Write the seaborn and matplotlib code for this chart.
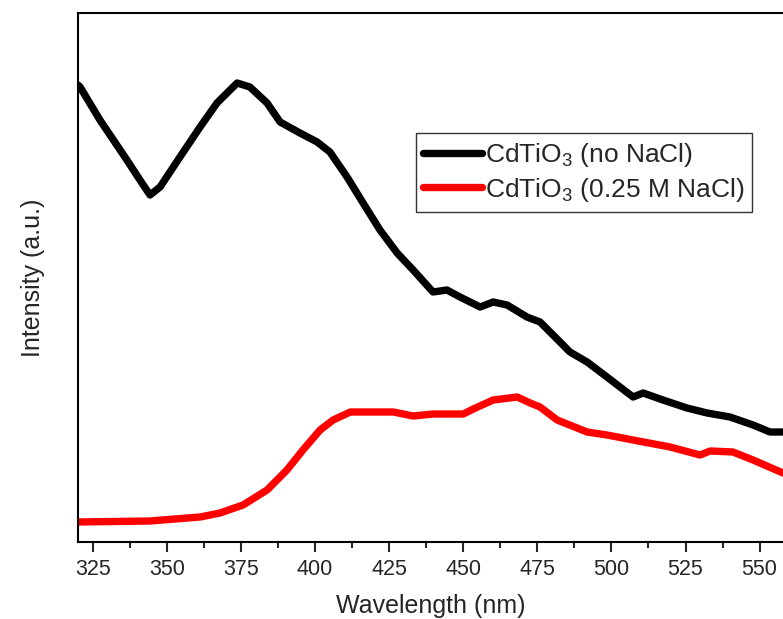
import numpy as np
import pandas as pd
import matplotlib
matplotlib.use("Agg")
import matplotlib.pyplot as plt
import seaborn as sns
from matplotlib.ticker import MultipleLocator

# ---- data ----
wl_black = [320.0, 320.7, 327.4, 336.5, 340.9, 344.3, 347.7, 354.4, 361.2, 366.9,
            373.7, 378.0, 383.8, 388.2, 394.9, 400.7, 405.0, 410.8, 416.2, 421.9,
            427.7, 433.1, 439.8, 444.5, 448.9, 455.7, 460.1, 464.8, 471.5, 475.9,
            480.3, 486.0, 491.8, 498.5, 507.3, 510.7, 517.4, 525.5, 532.3, 540.0,
            547.8, 553.5, 557.9]
int_black = [457, 455, 422, 382, 362, 347, 355, 385, 415, 439,
             459, 455, 439, 420, 409, 400, 390, 365, 339, 312,
             289, 272, 250, 252, 245, 235, 240, 237, 225, 220,
             207, 190, 180, 165, 145, 149, 142, 134, 129, 125,
             117, 110, 110]

wl_red = [320.0, 344.3, 361.2, 367.9, 375.7, 383.8, 390.5, 395.9, 401.7, 406.1,
          411.9, 419.6, 426.4, 433.1, 439.8, 450.0, 453.4, 460.1, 468.2, 472.6,
          475.9, 481.7, 491.8, 498.5, 507.3, 519.8, 529.9, 533.3, 541.0, 547.8,
          557.9]
int_red = [20, 21, 25, 29, 37, 52, 72, 92, 112, 122,
           130, 130, 130, 126, 128, 128, 133, 142, 145, 139,
           135, 122, 110, 107, 102, 95, 87, 91, 90, 82,
           69]

labels = [r"CdTiO$_3$ (no NaCl)", r"CdTiO$_3$ (0.25 M NaCl)"]
colors = ["#000000", "#ff0000"]
x_ticks = [325, 350, 375, 400, 425, 450, 475, 500, 525, 550]

df = pd.concat([
    pd.DataFrame({"Wavelength": wl_black, "Intensity": int_black, "Sample": labels[0]}),
    pd.DataFrame({"Wavelength": wl_red, "Intensity": int_red, "Sample": labels[1]}),
])

sns.set_style("white")
plt.rcParams["font.family"] = ["Liberation Sans", "DejaVu Sans"]
plt.rcParams["mathtext.fontset"] = "custom"
plt.rcParams["mathtext.rm"] = "Liberation Sans"
plt.rcParams["mathtext.it"] = "Liberation Sans:italic"

fig = plt.figure(figsize=(7.83, 6.19), dpi=100)
ax = fig.add_axes([78 / 783, 1 - 542 / 619, 1 - 78 / 783, (542 - 13) / 619])

sns.lineplot(data=df, x="Wavelength", y="Intensity", hue="Sample",
             palette=dict(zip(labels, colors)), linewidth=5.3, ax=ax,
             sort=False, estimator=None)

ax.set_xlim(320, 557.9)
ax.set_ylim(0, 529)
ax.set_xticks(x_ticks)
ax.xaxis.set_minor_locator(MultipleLocator(12.5))
ax.set_yticks([])
ax.tick_params(axis="x", which="major", direction="out", length=7, width=1.5,
               labelsize=15.5, pad=5, bottom=True)
ax.tick_params(axis="x", which="minor", direction="out", length=4, width=1.5, bottom=True)

for side in ["left", "bottom", "top"]:
    ax.spines[side].set_visible(True)
    ax.spines[side].set_color("black")
    ax.spines[side].set_linewidth(1.5)
ax.spines["right"].set_visible(False)

ax.set_xlabel("Wavelength (nm)", fontsize=18, labelpad=10)
ax.set_ylabel("Intensity (a.u.)", fontsize=18, labelpad=24)

leg = ax.legend(loc="upper right", bbox_to_anchor=(0.956, 0.773), borderaxespad=0,
                fontsize=19, frameon=True, fancybox=False, edgecolor="black",
                handlelength=2.2, handletextpad=0.12, borderpad=0.3, labelspacing=0.25)
leg.get_frame().set_linewidth(1.0)
for line in leg.get_lines():
    line.set_linewidth(5.3)

fig.savefig("out.png", dpi=100)
